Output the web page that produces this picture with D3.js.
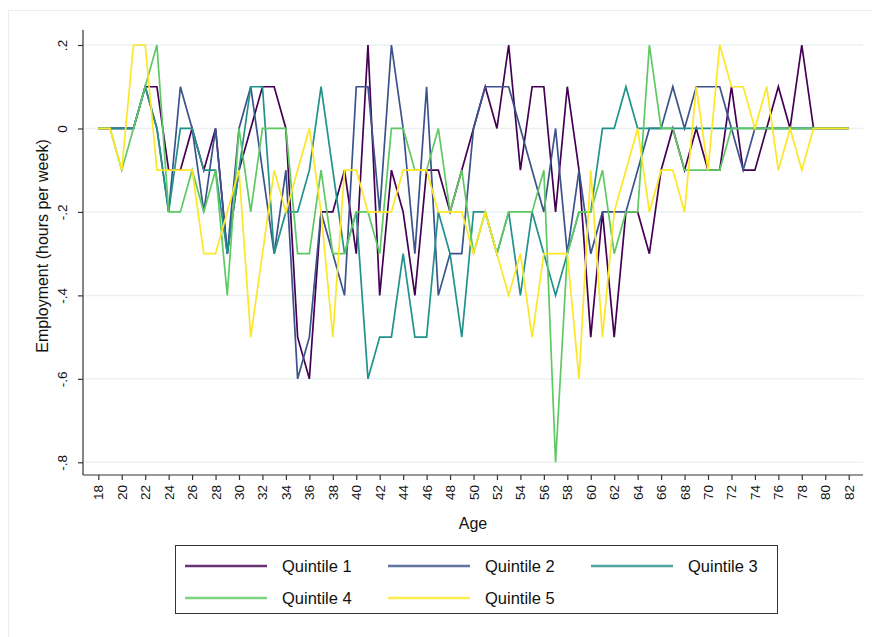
<!DOCTYPE html>
<html>
<head>
<meta charset="utf-8">
<script src="https://cdn.jsdelivr.net/npm/d3@7"></script>
<style>
  html, body { margin: 0; padding: 0; background: #fff; }
  svg { display: block; font-family: "Liberation Sans", Arial, sans-serif; }
</style>
</head>
<body>
<svg id="chart" width="872" height="637"></svg>
<script>
// Ages on the x axis
const ages = d3.range(18, 83);

// Change in employment (hours per week) by age, one array per quintile
const q1 = [0,0,0,0, 0.1,0.1,-0.1,-0.1,0,-0.1,0,-0.3,-0.1,0,
  0.1,0.1,0,-0.5,-0.6,-0.2,-0.2,-0.1,-0.3,0.2,
  -0.4,-0.1,-0.2,-0.4,-0.1,-0.1,-0.2,-0.1,0,0.1,
  0,0.2,-0.1,0.1,0.1,-0.2,0.1,-0.1,-0.5,-0.2,
  -0.5,-0.2,-0.2,-0.3,-0.1,0,-0.1,0,-0.1,-0.1,
  0.1,-0.1,-0.1,0,0.1,0,0.2,0,0,0, 0];
const q2 = [0,0,0,0, 0.1,0,-0.2,0.1,0,-0.2,0,-0.3,0,0.1,
  -0.1,-0.3,-0.1,-0.6,-0.5,-0.2,-0.3,-0.4,0.1,0.1,
  -0.2,0.2,0,-0.3,0.1,-0.4,-0.3,-0.3,0,0.1,
  0.1,0.1,0,-0.1,-0.2,0,-0.3,-0.1,-0.3,-0.2,
  -0.2,-0.2,-0.1,0,0,0.1,0,0.1,0.1,0.1,
  0,-0.1,0,0,0,0,0,0,0,0, 0];
const q3 = [0,0,0,0, 0.1,0,-0.2,0,0,-0.1,-0.1,-0.3,-0.1,0.1,
  0.1,-0.3,-0.2,-0.2,-0.1,0.1,-0.1,-0.3,-0.2,-0.6,
  -0.5,-0.5,-0.3,-0.5,-0.5,-0.2,-0.3,-0.5,-0.2,-0.2,
  -0.3,-0.2,-0.4,-0.2,-0.3,-0.4,-0.3,-0.2,-0.2,0,
  0,0.1,0,0,0,0,0,0,0,0,
  0,0,0,0,0,0,0,0,0,0, 0];
const q4 = [0,0,-0.1,0, 0.1,0.2,-0.2,-0.2,-0.1,-0.2,-0.1,-0.4,0,-0.2,
  0,0,0,-0.3,-0.3,-0.1,-0.3,-0.3,-0.2,-0.2,
  -0.3,0,0,-0.1,-0.1,0,-0.2,-0.1,-0.3,-0.2,
  -0.3,-0.2,-0.2,-0.2,-0.1,-0.8,-0.3,-0.2,-0.2,-0.1,
  -0.3,-0.2,-0.2,0.2,0,0,-0.1,-0.1,-0.1,-0.1,
  0,0,0,0,0,0,0,0,0,0, 0];
const q5 = [0,0,-0.1,0.2, 0.2,-0.1,-0.1,-0.1,-0.1,-0.3,-0.3,-0.2,-0.1,-0.5,
  -0.3,-0.1,-0.2,-0.1,0,-0.2,-0.5,-0.1,-0.1,-0.2,
  -0.2,-0.2,-0.1,-0.1,-0.1,-0.2,-0.2,-0.2,-0.3,-0.2,
  -0.3,-0.4,-0.3,-0.5,-0.3,-0.3,-0.3,-0.6,-0.1,-0.5,
  -0.2,-0.1,0,-0.2,-0.1,-0.1,-0.2,0.1,-0.1,0.2,
  0.1,0.1,0,0.1,-0.1,0,-0.1,0,0,0, 0];

const seriesNames = ["Quintile 1", "Quintile 2", "Quintile 3", "Quintile 4", "Quintile 5"];
const seriesValues = [q1, q2, q3, q4, q5];
const seriesColors = ["#440154", "#3b528b", "#21918c", "#5ec962", "#fde725"];

const yTicks = [0.2, 0, -0.2, -0.4, -0.6, -0.8];
const xTicks = d3.range(18, 83, 2);

const svg = d3.select("#chart");

// Plot region bounds
const plot = { left: 83, right: 863, top: 30, bottom: 475 };

const x = d3.scaleLinear().domain([18, 82]).range([98.3, 848.7]);
const y = d3.scaleLinear().domain([-0.8, 0.2]).range([462.3, 45]);

// Outer graph frame
svg.append("rect")
  .attr("x", 8.5).attr("y", 10.5)
  .attr("width", 900).attr("height", 700)
  .attr("fill", "none")
  .attr("stroke", "#e6eef0")
  .attr("stroke-width", 1.2);

// Horizontal grid lines
svg.append("g")
  .selectAll("line")
  .data(yTicks)
  .join("line")
  .attr("x1", plot.left + 1).attr("x2", plot.right)
  .attr("y1", d => y(d)).attr("y2", d => y(d))
  .attr("stroke", "#eaf2f3")
  .attr("stroke-width", 1.5);

// Y axis labels in the ".2 / -.2" style with a plain hyphen
const fmtY = d => {
  if (d === 0) return "0";
  const s = Math.abs(d).toFixed(1).replace(/^0/, "");
  return (d < 0 ? "-" : "") + s;
};
const yAxis = d3.axisLeft(y).tickValues(yTicks).tickSize(5).tickPadding(4).tickFormat(fmtY);
const gy = svg.append("g").attr("transform", `translate(${plot.left},0)`).call(yAxis);
gy.select(".domain").attr("d", `M0,${plot.top}V${plot.bottom}`).attr("stroke", "#333").attr("stroke-width", 1.2);
gy.selectAll(".tick line").attr("stroke", "#333").attr("stroke-width", 1.2);
gy.selectAll(".tick text")
  .attr("x", null)
  .attr("text-anchor", "middle")
  .attr("transform", "translate(-16,0) rotate(-90)")
  .attr("dy", "0")
  .attr("y", 0)
  .style("font-size", "13.5px")
  .attr("fill", "#111");

// X axis
const xAxis = d3.axisBottom(x).tickValues(xTicks).tickSize(5).tickFormat(d3.format("d"));
const gx = svg.append("g").attr("transform", `translate(0,${plot.bottom})`).call(xAxis);
gx.select(".domain").attr("d", `M${plot.left},0H${plot.right}`).attr("stroke", "#333").attr("stroke-width", 1.2);
gx.selectAll(".tick line").attr("stroke", "#333").attr("stroke-width", 1.2);
gx.selectAll(".tick text")
  .attr("y", null).attr("dy", null)
  .attr("text-anchor", "end")
  .attr("transform", "translate(4.5,10) rotate(-90)")
  .style("font-size", "13.5px")
  .attr("fill", "#111");

// Axis titles
svg.append("text")
  .attr("x", 473).attr("y", 529)
  .attr("text-anchor", "middle")
  .style("font-size", "16px")
  .attr("fill", "#111")
  .text("Age");

svg.append("text")
  .attr("transform", "translate(48,246) rotate(-90)")
  .attr("text-anchor", "middle")
  .style("font-size", "16px")
  .attr("fill", "#111")
  .text("Employment (hours per week)");

// Series lines
const line = d3.line()
  .x((d, i) => x(ages[i]))
  .y(d => y(d));

svg.append("g")
  .selectAll("path")
  .data(seriesValues)
  .join("path")
  .attr("d", d => line(d))
  .attr("fill", "none")
  .attr("stroke", (d, i) => seriesColors[i])
  .attr("stroke-width", 1.7)
  .attr("stroke-linejoin", "miter");

// Legend
const legend = svg.append("g");
legend.append("rect")
  .attr("x", 175.5).attr("y", 545.5)
  .attr("width", 602).attr("height", 68)
  .attr("fill", "#fff")
  .attr("stroke", "#333")
  .attr("stroke-width", 1);

const colX = [185, 388, 591];
const rowY = [566, 598];
seriesNames.forEach((name, i) => {
  const cx = colX[i % 3];
  const cy = rowY[Math.floor(i / 3)];
  legend.append("line")
    .attr("x1", cx).attr("x2", cx + 82)
    .attr("y1", cy).attr("y2", cy)
    .attr("stroke", seriesColors[i])
    .attr("stroke-width", 2.4)
    .attr("opacity", 0.8);
  legend.append("text")
    .attr("x", cx + 97).attr("y", cy)
    .attr("dy", "0.35em")
    .style("font-size", "16.5px")
    .attr("fill", "#111")
    .text(name);
});
</script>
</body>
</html>
